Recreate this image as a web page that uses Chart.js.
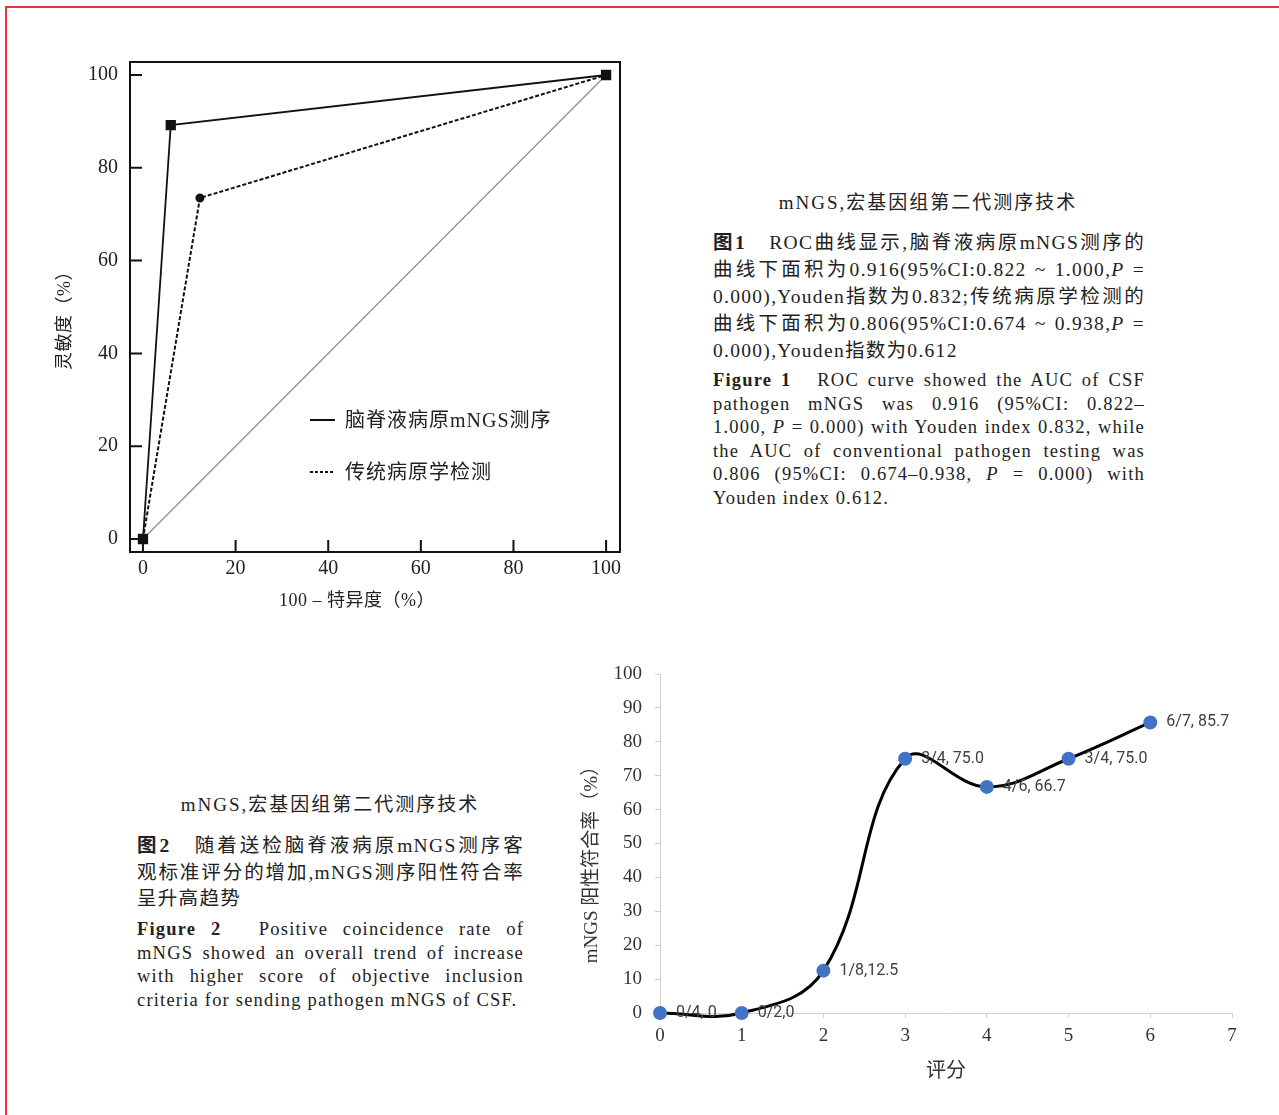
<!DOCTYPE html>
<html>
<head>
<meta charset="utf-8">
<script src="https://cdn.jsdelivr.net/npm/chart.js@4"></script>
<style>
  body { margin: 0; background: #fff; }
  #page { position: relative; width: 1279px; height: 1115px; overflow: hidden;
    font-family: "Liberation Serif", "Noto Sans CJK SC", serif; color: #222; }
  #redline { position: absolute; left: 5px; top: 6px; width: 1400px; height: 1300px;
    border-top: 2px solid #ee3039; border-left: 2px solid #ee3039; }
  .abs { position: absolute; }
  .cap { position: absolute; text-align: center; font-size: 19px; letter-spacing: 2px; white-space: nowrap; }
  .zh { position: absolute; font-size: 19.5px; line-height: 27px; letter-spacing: 1.3px; }
  .en { position: absolute; font-size: 18.5px; line-height: 23.6px; letter-spacing: 1.2px; }
  .zh div, .en div { white-space: nowrap; text-align: justify; text-align-last: justify; }
  .zh div.last, .en div.last { text-align-last: left; }
</style>
</head>
<body>
<div id="page">
  <div id="redline"></div>

  <canvas id="roc" class="abs" width="640" height="620" style="left:0;top:0"></canvas>
  <canvas id="score" class="abs" width="719" height="475" style="left:560px;top:640px"></canvas>

  <div class="cap" style="left:728px;top:190px;width:400px;line-height:26px">mNGS,宏基因组第二代测序技术</div>
  <div class="zh" style="left:713px;top:229px;width:432px">
    <div><b>图1</b>　ROC曲线显示,脑脊液病原mNGS测序的</div>
    <div>曲线下面积为0.916(95%CI:0.822 ~ 1.000,<i>P</i> =</div>
    <div>0.000),Youden指数为0.832;传统病原学检测的</div>
    <div>曲线下面积为0.806(95%CI:0.674 ~ 0.938,<i>P</i> =</div>
    <div class="last">0.000),Youden指数为0.612</div>
  </div>
  <div class="en" style="left:713px;top:369px;width:432px">
    <div><b>Figure 1</b>　ROC curve showed the AUC of CSF</div>
    <div>pathogen mNGS was 0.916 (95%CI: 0.822–</div>
    <div>1.000, <i>P</i> = 0.000) with Youden index 0.832, while</div>
    <div>the AUC of conventional pathogen testing was</div>
    <div>0.806 (95%CI: 0.674–0.938, <i>P</i> = 0.000) with</div>
    <div class="last">Youden index 0.612.</div>
  </div>

  <div class="cap" style="left:130px;top:792px;width:400px;line-height:26px">mNGS,宏基因组第二代测序技术</div>
  <div class="zh" style="left:137px;top:833px;width:387px;line-height:26.5px">
    <div><b>图2</b>　随着送检脑脊液病原mNGS测序客</div>
    <div>观标准评分的增加,mNGS测序阳性符合率</div>
    <div class="last">呈升高趋势</div>
  </div>
  <div class="en" style="left:137px;top:918px;width:387px">
    <div><b>Figure 2</b>　Positive coincidence rate of</div>
    <div>mNGS showed an overall trend of increase</div>
    <div>with higher score of objective inclusion</div>
    <div class="last">criteria for sending pathogen mNGS of CSF.</div>
  </div>
</div>

<script>
// Figure 1 - ROC curves
const mngsFpr = [0, 6.0, 100];
const mngsTpr = [0, 89.2, 100];
const convFpr = [0, 12.3, 100];
const convTpr = [0, 73.5, 100];
const chanceLine = [0, 100];
const rocTicks = [0, 20, 40, 60, 80, 100];
const rocLegend = ['脑脊液病原mNGS测序', '传统病原学检测'];

// Figure 2 - positive rate by score
const scores = [0, 1, 2, 3, 4, 5, 6];
const positiveRate = [0, 0, 12.5, 75.0, 66.7, 75.0, 85.7];
const pointLabels = ['0/4, 0', '0/2,0', '1/8,12.5', '3/4, 75.0', '4/6, 66.7', '3/4, 75.0', '6/7, 85.7'];

const serif = '"Liberation Serif", "Noto Sans CJK SC", serif';

const toXY = (xs, ys) => xs.map((v, i) => ({ x: v, y: ys[i] }));

const rocExtras = {
  id: 'rocExtras',
  afterDraw(chart) {
    const { ctx, chartArea: a, scales: { x, y } } = chart;
    ctx.save();
    ctx.strokeStyle = '#111';
    ctx.lineWidth = 2;
    ctx.strokeRect(a.left, a.top, a.right - a.left, a.bottom - a.top);
    ctx.beginPath();
    rocTicks.forEach((v) => {
      const px = x.getPixelForValue(v);
      const py = y.getPixelForValue(v);
      ctx.moveTo(px, a.bottom);
      ctx.lineTo(px, a.bottom - 12);
      ctx.moveTo(a.left, py);
      ctx.lineTo(a.left + 12, py);
    });
    ctx.stroke();

    // legend inside the plot
    ctx.lineWidth = 2;
    ctx.beginPath();
    ctx.moveTo(310, 420);
    ctx.lineTo(335, 420);
    ctx.stroke();
    ctx.setLineDash([3, 2]);
    ctx.beginPath();
    ctx.moveTo(310, 472);
    ctx.lineTo(335, 472);
    ctx.stroke();
    ctx.setLineDash([]);
    ctx.fillStyle = '#222';
    ctx.font = '20px ' + serif;
    ctx.letterSpacing = '1px';
    ctx.textBaseline = 'middle';
    ctx.fillText(rocLegend[0], 345, 422);
    ctx.fillText(rocLegend[1], 345, 474);

    // axis titles
    ctx.font = '18px ' + serif;
    ctx.letterSpacing = '0.5px';
    ctx.textAlign = 'center';
    ctx.fillText('100 – 特异度（%）', 357, 601);
    ctx.translate(65, 316);
    ctx.rotate(-Math.PI / 2);
    ctx.fillText('灵敏度（%）', 0, 0);
    ctx.restore();
  },
};

new Chart(document.getElementById('roc'), {
  type: 'scatter',
  data: {
    datasets: [
      {
        label: rocLegend[0],
        data: toXY(mngsFpr, mngsTpr),
        showLine: true,
        borderColor: '#111',
        borderWidth: 1.8,
        pointStyle: 'rect',
        pointRadius: 6,
        pointBackgroundColor: '#111',
        pointBorderColor: '#111',
      },
      {
        label: rocLegend[1],
        data: toXY(convFpr, convTpr),
        showLine: true,
        borderColor: '#111',
        borderWidth: 2,
        borderDash: [4, 2],
        pointRadius: 3.5,
        pointBackgroundColor: '#111',
        pointBorderColor: '#111',
      },
      {
        data: toXY(chanceLine, chanceLine),
        showLine: true,
        borderColor: '#8c8c8c',
        borderWidth: 1.2,
        pointRadius: 0,
      },
    ],
  },
  options: {
    responsive: false,
    animation: false,
    layout: { padding: { left: 40, top: 62, right: 20, bottom: 0 } },
    scales: {
      x: {
        type: 'linear',
        min: -2.8,
        max: 103,
        afterBuildTicks: (s) => { s.ticks = rocTicks.map((v) => ({ value: v })); },
        afterFit: (s) => { s.height = 68; },
        grid: { display: false, drawTicks: false },
        border: { display: false },
        ticks: { padding: 5, color: '#222', font: { family: serif, size: 20 } },
      },
      y: {
        type: 'linear',
        min: -2.8,
        max: 102.8,
        afterBuildTicks: (s) => { s.ticks = rocTicks.map((v) => ({ value: v })); },
        afterFit: (s) => { s.width = 90; },
        grid: { display: false, drawTicks: false },
        border: { display: false },
        ticks: { padding: 12, color: '#222', font: { family: serif, size: 20 } },
      },
    },
    plugins: {
      legend: { display: false },
      tooltip: { enabled: false },
    },
  },
  plugins: [rocExtras],
});

const scoreExtras = {
  id: 'scoreExtras',
  afterDatasetsDraw(chart) {
    const { ctx } = chart;
    const meta = chart.getDatasetMeta(0);
    ctx.save();
    ctx.fillStyle = '#404040';
    ctx.font = '16px Roboto, "Liberation Sans", sans-serif';
    ctx.textBaseline = 'middle';
    meta.data.forEach((pt, i) => {
      ctx.fillText(pointLabels[i], pt.x + 16, pt.y);
    });

    ctx.fillStyle = '#333';
    ctx.font = '20px ' + serif;
    ctx.textAlign = 'center';
    ctx.fillText('评分', 386, 432);
    ctx.font = '19px ' + serif;
    ctx.translate(32, 220);
    ctx.rotate(-Math.PI / 2);
    ctx.fillText('mNGS 阳性符合率（%）', 0, 0);
    ctx.restore();
  },
};

new Chart(document.getElementById('score'), {
  type: 'line',
  data: {
    datasets: [
      {
        data: toXY(scores, positiveRate),
        borderColor: '#000',
        borderWidth: 3,
        tension: 0.4,
        pointRadius: 5.5,
        pointBackgroundColor: '#4472c4',
        pointBorderColor: '#4472c4',
        clip: false,
      },
    ],
  },
  options: {
    responsive: false,
    animation: false,
    layout: { padding: { left: 0, top: 34, right: 47, bottom: 0 } },
    elements: { line: { capBezierPoints: false } },
    scales: {
      x: {
        type: 'linear',
        min: 0,
        max: 7,
        afterFit: (s) => { s.height = 102; },
        grid: { drawOnChartArea: false, tickLength: 5, color: '#d0d0d0' },
        border: { color: '#d0d0d0' },
        ticks: { stepSize: 1, padding: 7, color: '#333', font: { family: serif, size: 19 } },
      },
      y: {
        type: 'linear',
        min: 0,
        max: 100,
        afterFit: (s) => { s.width = 100; },
        grid: { drawOnChartArea: false, tickLength: 5, color: '#d0d0d0' },
        border: { color: '#d0d0d0' },
        ticks: { stepSize: 10, padding: 13, color: '#333', font: { family: serif, size: 19 } },
      },
    },
    plugins: {
      legend: { display: false },
      tooltip: { enabled: false },
    },
  },
  plugins: [scoreExtras],
});
</script>
</body>
</html>
